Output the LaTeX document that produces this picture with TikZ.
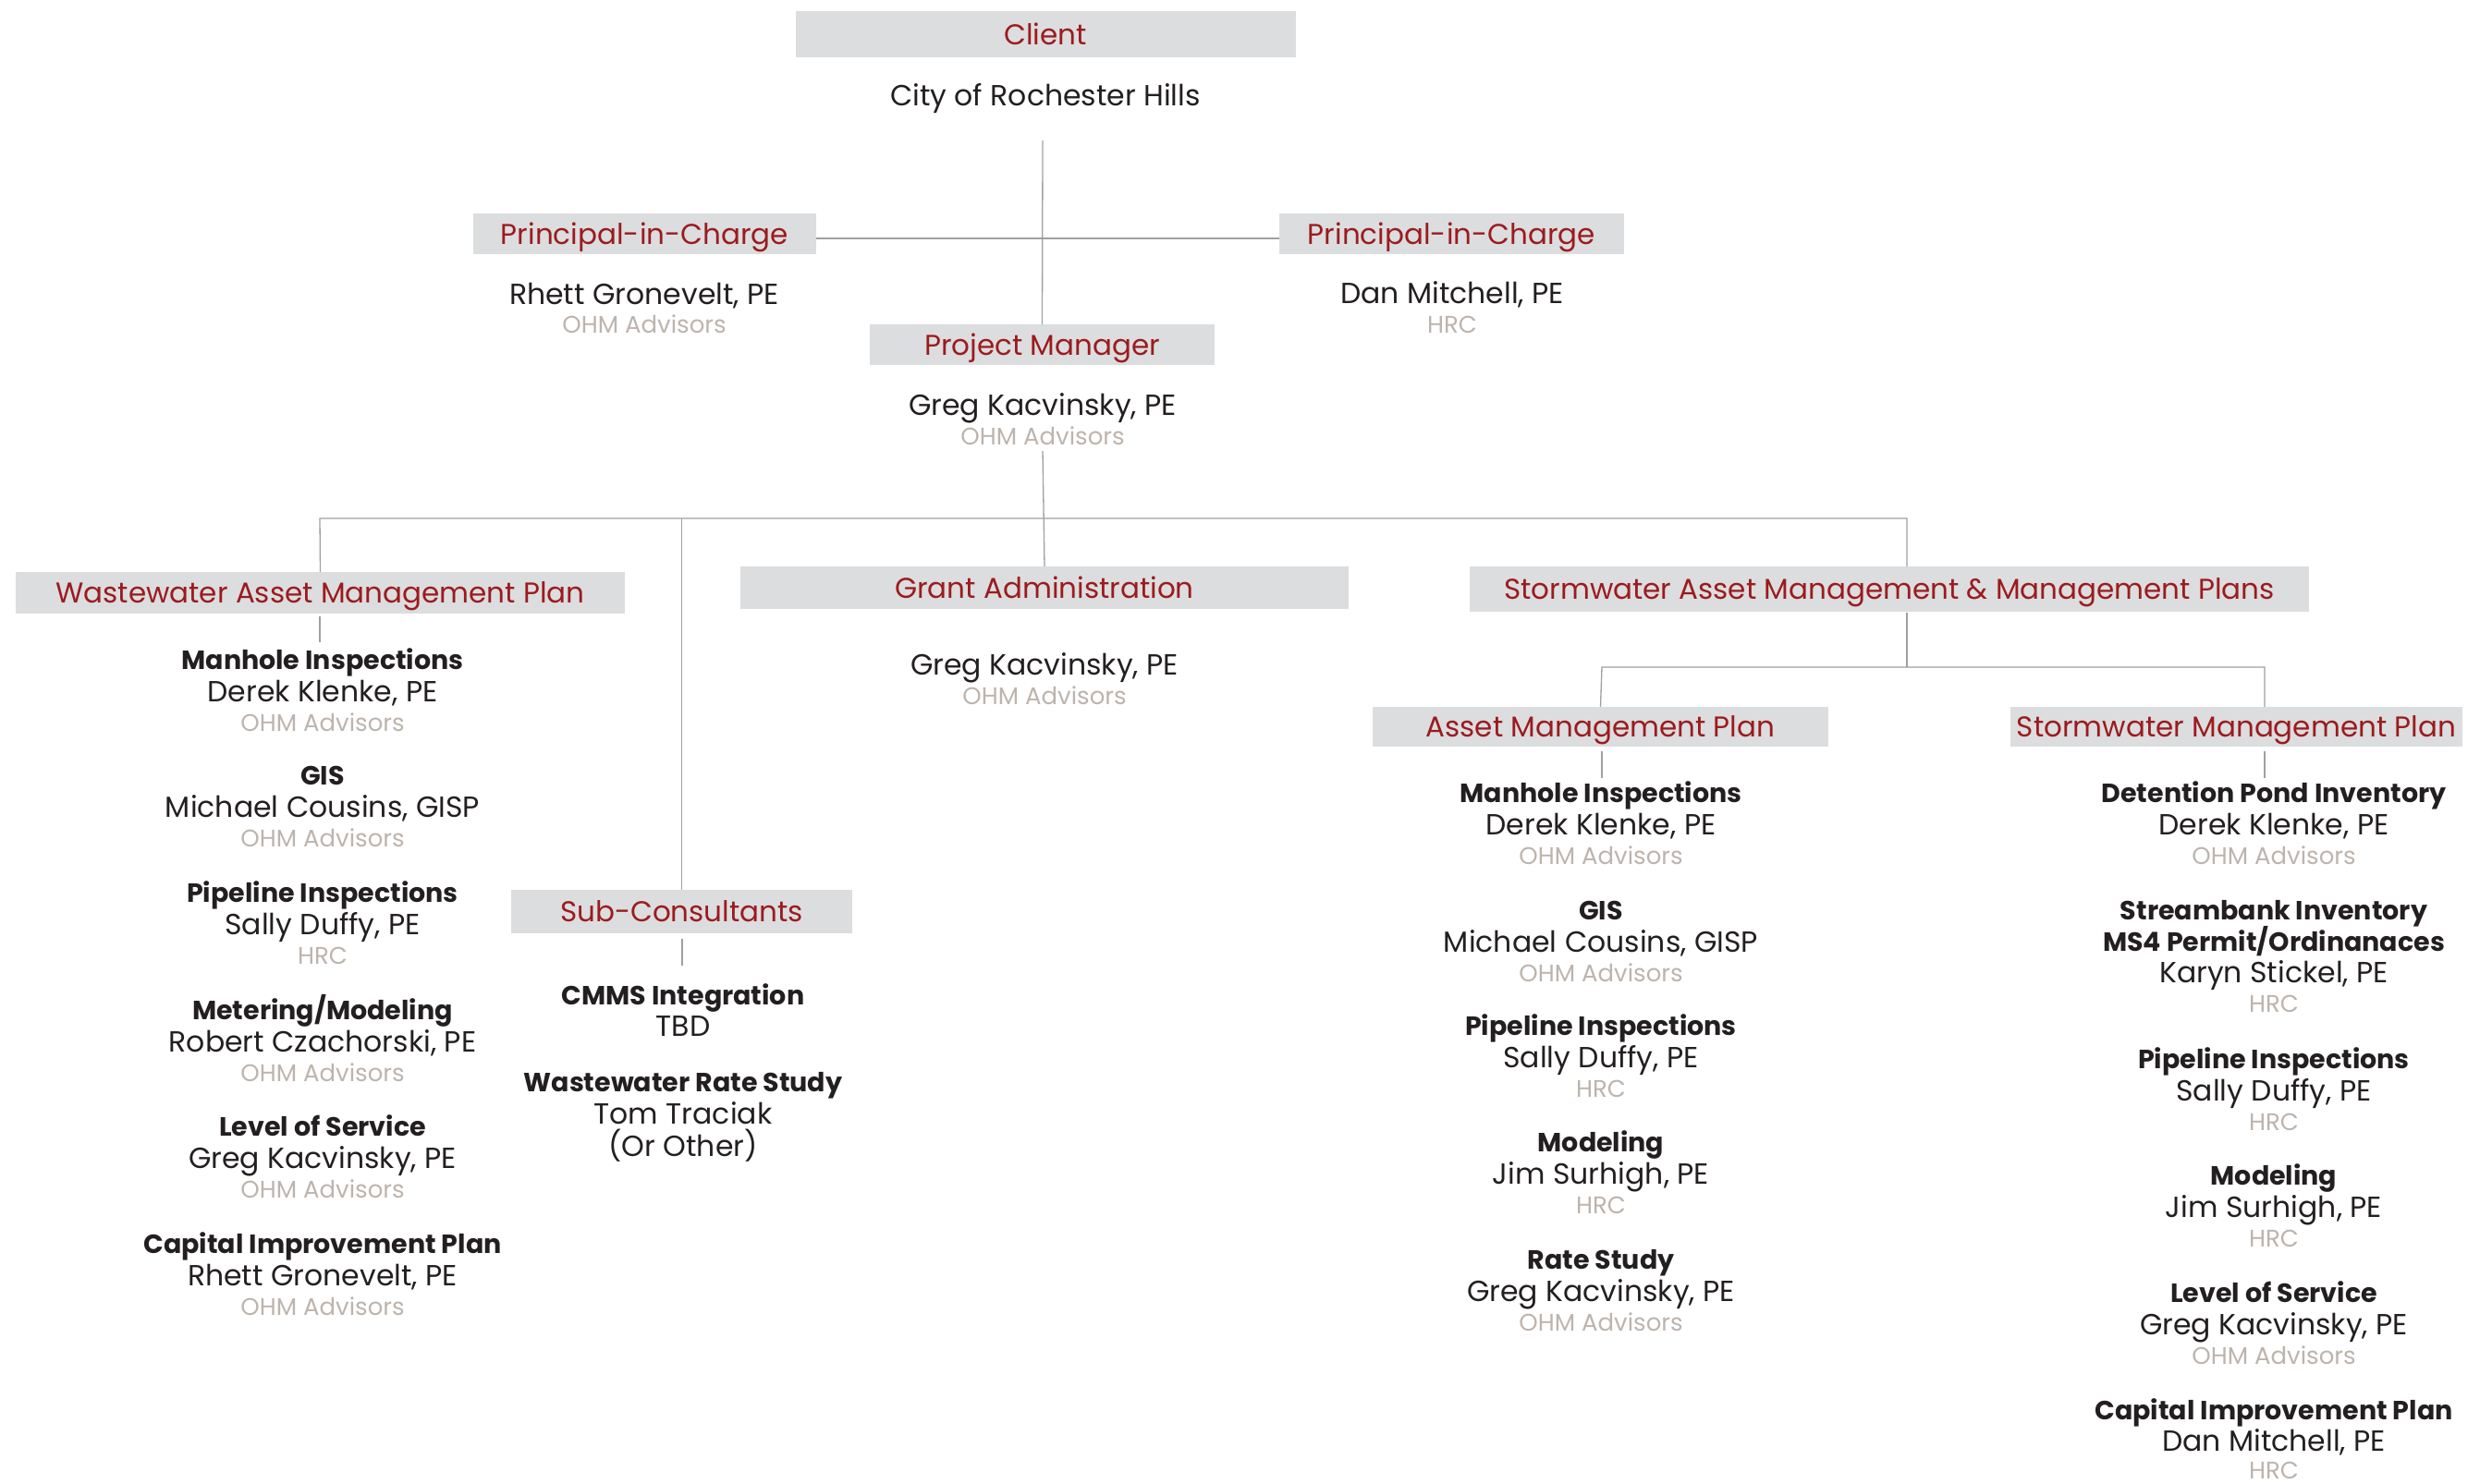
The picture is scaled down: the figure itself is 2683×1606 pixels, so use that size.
\documentclass[tikz,border=0pt]{standalone}
\usepackage{fontspec}
\setmainfont{Poppins}
\usetikzlibrary{calc}
\definecolor{boxgray}{HTML}{DCDDDF}
\definecolor{hdred}{HTML}{9B1B1E}
\definecolor{bodyk}{HTML}{231F20}
\definecolor{orggray}{HTML}{BDB4AD}
\definecolor{linegray}{HTML}{A0A0A0}
\tikzset{
  hdbox/.style={fill=boxgray, inner sep=0pt, text=hdred, text height=22pt, text depth=0pt, font=\fontsize{31}{36}\selectfont},
  bodytxt/.style={inner sep=0pt, text=bodyk, font=\fontsize{31.5}{36}\selectfont},
  boldtxt/.style={inner sep=0pt, text=bodyk, font=\fontsize{28.5}{34}\selectfont\bfseries},
  orgtxt/.style={inner sep=0pt, text=orggray, font=\fontsize{26}{30}\selectfont},
  conn/.style={draw=linegray, line width=1.3pt}
}
\newcommand\staff[6]{%
  \node[boldtxt, anchor=base] (#1-t) at (#2, #3+11) {#4};
  \node[bodytxt, anchor=base] (#1-p) at (#2, #3+46) {#5};
  \node[orgtxt, anchor=base] (#1-o) at (#2, #3+78) {#6};
}
\begin{document}
\begin{tikzpicture}[x=1pt,y=-1pt]
\useasboundingbox (0,0) rectangle (2683,1606);
% --- top ---
\node[hdbox, minimum width=541, minimum height=50] (client) at (1131,37) {Client};
\node[bodytxt, anchor=base] (city) at (1131,114) {City of Rochester Hills};
\node[hdbox, minimum width=371, minimum height=44] (pic1) at (697.5,253) {Principal-in-Charge};
\node[hdbox, minimum width=373, minimum height=44] (pic2) at (1570.5,253) {Principal-in-Charge};
\node[bodytxt, anchor=base] (pic1-p) at (697,329) {Rhett Gronevelt, PE};
\node[orgtxt, anchor=base] (pic1-o) at (697,360) {OHM Advisors};
\node[bodytxt, anchor=base] (pic2-p) at (1571,328) {Dan Mitchell, PE};
\node[orgtxt, anchor=base] (pic2-o) at (1571,360) {HRC};
\node[hdbox, minimum width=373, minimum height=44] (pm) at (1127.5,373) {Project Manager};
\node[bodytxt, anchor=base] (pm-p) at (1128,449) {Greg Kacvinsky, PE};
\node[orgtxt, anchor=base] (pm-o) at (1128,481) {OHM Advisors};
% --- second level ---
\node[hdbox, minimum width=659, minimum height=45] (ww) at (346.5,641.5) {Wastewater Asset Management Plan};
\node[hdbox, minimum width=658, minimum height=46] (ga) at (1130,636) {Grant Administration};
\node[hdbox, minimum width=908, minimum height=49] (sw) at (2044,637.5) {Stormwater Asset Management \& Management Plans};
\node[hdbox, minimum width=369, minimum height=47] (sc) at (737.5,986.5) {Sub-Consultants};
\node[hdbox, minimum width=493, minimum height=43] (amp) at (1731.5,786.5) {Asset Management Plan};
\node[hdbox, minimum width=489, minimum height=43] (smp) at (2419.5,786.5) {Stormwater Management Plan};
% --- connector points ---
\coordinate (topc) at (1128,152);
\coordinate (picl) at (1128,258);
\coordinate (pmbot) at (1128,488);
\coordinate (busL) at (346,561);
\coordinate (busR) at (2063,561);
\coordinate (swtop) at (2063,613);
\coordinate (swbot) at (2063,663);
\coordinate (swbusL) at (1733,722);
\coordinate (swbusR) at (2450,722);
\coordinate (smptop) at (2450,765);
\coordinate (wwA) at (346,667);
\coordinate (wwB) at (346,695);
\coordinate (scA) at (738,1016);
\coordinate (scB) at (738,1045);
\coordinate (ampA) at (1733,813);
\coordinate (ampB) at (1733,842);
\coordinate (smpA) at (2450,813);
\coordinate (smpB) at (2450,842);
% --- connectors ---
\draw[conn] (topc) -- (pm.north);
\draw[conn] (pic1.east |- picl) -- (pic2.west |- picl);
\draw[conn] (pmbot) -- (ga.north);
\draw[conn] (ww.north) -- (busL) -- (busR) -- (swtop);
\draw[conn] (sc.north) -- (sc.north |- busL);
\draw[conn] (swbot) -- (swbot |- swbusL);
\draw[conn] (amp.north) -- (swbusL) -- (swbusR) -- (smptop);
\draw[conn] (wwA) -- (wwB);
\draw[conn] (scA) -- (scB);
\draw[conn] (ampA) -- (ampB);
\draw[conn] (smpA) -- (smpB);
% --- grant admin ---
\node[bodytxt, anchor=base] (ga-p) at (1130,730) {Greg Kacvinsky, PE};
\node[orgtxt, anchor=base] (ga-o) at (1130,762) {OHM Advisors};
% --- wastewater column ---
\staff{w1}{349}{713}{Manhole Inspections}{Derek Klenke, PE}{OHM Advisors}
\staff{w2}{349}{838}{GIS}{Michael Cousins, GISP}{OHM Advisors}
\staff{w3}{349}{965}{Pipeline Inspections}{Sally Duffy, PE}{HRC}
\staff{w4}{349}{1092}{Metering/Modeling}{Robert Czachorski, PE}{OHM Advisors}
\staff{w5}{349}{1218}{Level of Service}{Greg Kacvinsky, PE}{OHM Advisors}
\staff{w6}{349}{1345}{Capital Improvement Plan}{Rhett Gronevelt, PE}{OHM Advisors}
% --- sub-consultants ---
\node[boldtxt, anchor=base] (s1-t) at (739,1087) {CMMS Integration};
\node[bodytxt, anchor=base] (s1-p) at (739,1121) {TBD};
\node[boldtxt, anchor=base] (s2-t) at (739,1181) {Wastewater Rate Study};
\node[bodytxt, anchor=base] (s2-p) at (739,1216) {Tom Traciak};
\node[bodytxt, anchor=base] (s2-q) at (739,1251) {(Or Other)};
% --- asset management plan ---
\staff{a1}{1732}{857}{Manhole Inspections}{Derek Klenke, PE}{OHM Advisors}
\staff{a2}{1732}{984}{GIS}{Michael Cousins, GISP}{OHM Advisors}
\staff{a3}{1732}{1109}{Pipeline Inspections}{Sally Duffy, PE}{HRC}
\staff{a4}{1732}{1235}{Modeling}{Jim Surhigh, PE}{HRC}
\staff{a5}{1732}{1362}{Rate Study}{Greg Kacvinsky, PE}{OHM Advisors}
% --- stormwater management plan ---
\staff{m1}{2460}{857}{Detention Pond Inventory}{Derek Klenke, PE}{OHM Advisors}
\node[boldtxt, anchor=base] (m2-t) at (2460,995) {Streambank Inventory};
\node[boldtxt, anchor=base] (m2-u) at (2460,1029) {MS4 Permit/Ordinanaces};
\node[bodytxt, anchor=base] (m2-p) at (2460,1063) {Karyn Stickel, PE};
\node[orgtxt, anchor=base] (m2-o) at (2460,1095) {HRC};
\staff{m3}{2460}{1145}{Pipeline Inspections}{Sally Duffy, PE}{HRC}
\staff{m4}{2460}{1271}{Modeling}{Jim Surhigh, PE}{HRC}
\staff{m5}{2460}{1398}{Level of Service}{Greg Kacvinsky, PE}{OHM Advisors}
\node[boldtxt, anchor=base] (m6-t) at (2460,1536) {Capital Improvement Plan};
\node[bodytxt, anchor=base] (m6-p) at (2460,1570) {Dan Mitchell, PE};
\node[orgtxt, anchor=base] (m6-o) at (2460,1600) {HRC};
\end{tikzpicture}
\end{document}
